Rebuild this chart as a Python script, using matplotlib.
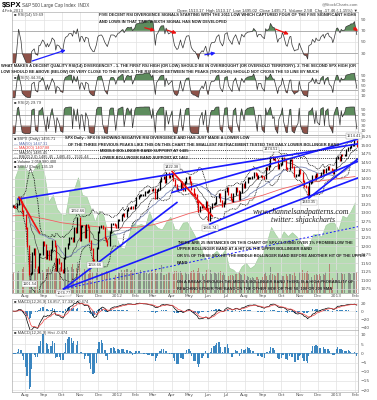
import numpy as np
import pandas as pd
import matplotlib
matplotlib.use("Agg")
import matplotlib.pyplot as plt
import matplotlib.dates as mdates
from matplotlib.ticker import FixedLocator, FuncFormatter

# SPX close, every second trading day (Jul 2011 - Feb 2013)
close = [
    1319, 1317, 1316, 1326, 1343, 1331, 1304, 1292,
    1254, 1200, 1119, 1120, 1179, 1192, 1140, 1123, 1177, 1177, 1212,
    1204, 1165, 1185, 1162, 1189, 1216, 1202, 1129, 1162, 1151, 1131,
    1123, 1165, 1195, 1207, 1224, 1225, 1215, 1254, 1242, 1285,
    1219, 1261, 1261, 1229, 1263, 1257, 1216, 1193, 1161, 1159, 1195,
    1244, 1257, 1261, 1255, 1226, 1216, 1205, 1243, 1265, 1265, 1263,
    1258, 1277, 1278, 1292, 1295, 1289, 1308, 1315, 1314, 1318, 1313,
    1324, 1344, 1348, 1351, 1351, 1351, 1361, 1362, 1363, 1367, 1366,
    1370, 1343, 1366, 1371, 1394, 1404, 1405, 1392, 1417, 1405, 1408,
    1413, 1398, 1382, 1368, 1370, 1391, 1377, 1366, 1391, 1403,
    1405, 1391, 1370, 1354, 1353, 1331, 1304, 1316, 1324, 1318, 1332, 1310,
    1278, 1315, 1325, 1325, 1330, 1345, 1355, 1335, 1319, 1329,
    1365, 1374, 1355, 1341, 1334, 1354, 1373, 1363, 1339, 1360, 1385,
    1376, 1391, 1402, 1403, 1404, 1405, 1418, 1413, 1403, 1410, 1410, 1407,
    1404, 1432, 1429, 1437, 1466, 1459, 1460, 1456, 1433, 1441,
    1445, 1461, 1455, 1433, 1429, 1455, 1457, 1434, 1409, 1411, 1412,
    1427, 1417, 1395, 1380, 1375, 1353, 1387, 1392, 1409, 1399, 1415,
    1409, 1408, 1418, 1427, 1419, 1430, 1436, 1430, 1427, 1418, 1426,
    1462, 1466, 1457, 1472, 1470, 1472, 1486, 1492, 1494, 1500, 1501,
    1513, 1496,
]

# volume, billions of shares
volume = [
    3.6, 3.9, 4.1, 4.0, 4.2, 3.8, 4.6, 5.0,
    5.8, 6.5, 8.0, 7.5, 6.0, 4.5, 5.3, 4.6, 5.0, 4.0, 4.3,
    4.0, 4.6, 4.5, 5.0, 4.5, 5.2, 4.5, 6.7, 5.2, 4.8, 4.9,
    6.5, 5.6, 4.8, 5.0, 4.3, 5.0, 5.5, 4.5, 4.8, 5.8,
    5.6, 4.7, 3.9, 4.6, 3.8, 3.7, 4.7, 4.8, 4.0, 2.0, 4.0,
    4.8, 4.2, 4.0, 3.9, 4.0, 4.2, 3.9, 4.0, 2.5, 2.3, 2.8,
    3.5, 4.0, 3.8, 4.3, 4.0, 4.4, 4.5, 4.5, 4.2, 4.4, 4.0,
    4.5, 4.2, 4.0, 3.7, 4.3, 4.1, 3.9, 3.8, 3.6, 3.8, 4.2,
    4.0, 4.6, 3.7, 3.8, 4.0, 5.3, 3.4, 3.5, 3.6, 3.9, 4.0,
    3.9, 3.6, 4.1, 4.2, 3.9, 4.1, 3.8, 3.5, 3.9, 3.6,
    3.7, 3.9, 4.2, 4.4, 4.0, 4.2, 4.8, 3.9, 3.6, 3.2, 3.6, 4.3,
    4.6, 4.3, 3.7, 3.9, 3.8, 3.6, 3.9, 4.2, 3.5, 4.0,
    3.4, 2.0, 3.3, 3.4, 3.5, 3.2, 3.7, 3.6, 3.9, 3.6, 3.4,
    3.6, 3.4, 3.2, 3.0, 2.8, 3.0, 2.9, 3.1, 3.0, 2.7, 2.5, 3.1,
    3.6, 3.9, 3.3, 3.4, 5.0, 3.6, 3.5, 3.3, 3.8, 3.8,
    3.4, 3.2, 3.2, 3.6, 3.2, 3.7, 3.6, 3.4, 3.9, 3.3, 2.0,
    4.0, 3.8, 4.3, 3.8, 3.9, 4.2, 3.6, 3.0, 1.8, 3.5, 3.7,
    3.4, 3.6, 3.3, 3.6, 3.4, 4.0, 3.5, 5.5, 1.2, 2.8, 2.9,
    4.3, 3.8, 3.5, 3.8, 3.6, 3.7, 4.5, 3.8, 3.8, 3.6, 3.8,
    3.8, 3.9,
]

# $XEU weekly close
xeu = [
    141.5, 143.8, 143.9, 142.8, 142.4, 143.9, 144.9, 142.0, 136.5, 137.9,
    135.0, 133.9, 133.8, 138.8, 138.9, 141.5, 137.9, 137.6, 135.2, 132.4,
    134.6, 133.8, 130.4, 130.6, 129.6,
    127.2, 126.8, 129.3, 132.2, 131.6, 131.9, 131.5, 134.5, 132.0, 131.1,
    130.8, 132.3, 133.4, 130.9, 130.7, 132.2, 132.3, 130.8, 129.2, 127.8,
    125.2, 124.3, 125.6, 126.4, 125.3, 126.6, 122.9, 122.5, 121.6, 123.2,
    123.9, 122.8, 123.4, 125.2, 125.8, 128.2, 131.3, 129.8, 128.6, 130.4,
    129.4, 130.2, 129.4, 128.3, 127.1, 127.5, 129.8, 129.9, 129.3, 131.7,
    132.2, 132.2, 130.7, 133.6, 133.2, 134.6, 136.4,
]

# 200 day moving average, month starts Jul 2011 - Feb 2013
ma200_dates = pd.date_range("2011-07-01", "2013-02-01", freq="MS")
ma200 = [1290, 1292, 1282, 1270, 1263, 1258, 1255, 1256, 1264, 1280,
         1298, 1312, 1325, 1337, 1352, 1370, 1384, 1393, 1400, 1407]

dates = pd.date_range(end="2013-02-04", periods=len(close), freq="2B")
xeu_dates = pd.date_range(end="2013-02-01", periods=len(xeu), freq="W-FRI")
s = pd.Series(close, index=dates, dtype=float)


def rsi(series, n):
    d = series.diff()
    up = d.clip(lower=0).ewm(alpha=1 / n, adjust=False).mean()
    dn = (-d.clip(upper=0)).ewm(alpha=1 / n, adjust=False).mean()
    return 100 - 100 / (1 + up / dn.replace(0, 1e-9))


rsi14 = rsi(s, 7).bfill()
rsi5 = rsi(s, 2.5).bfill()
rsi2 = rsi(s, 1.4).bfill()
ma50 = s.rolling(25, min_periods=1).mean()
mid = s.rolling(10, min_periods=2).mean().bfill()
sd = s.rolling(10, min_periods=2).std().bfill()
bb_up, bb_lo = mid + 2 * sd, mid - 2 * sd
macd = s.ewm(span=6, adjust=False).mean() - s.ewm(span=13, adjust=False).mean()
signal = macd.ewm(span=4.5, adjust=False).mean()
hist = macd - signal

W, H = 377, 400
fig = plt.figure(figsize=(W / 100, H / 100), dpi=100)
L, R = 12, 358
x0, x1 = pd.Timestamp("2011-07-10"), pd.Timestamp("2013-02-06")
SANS = ["Liberation Sans", "DejaVu Sans"]


def panel(top, bottom):
    a = fig.add_axes([L / W, 1 - bottom / H, (R - L) / W, (bottom - top) / H])
    a.set_xlim(x0, x1)
    for sp in a.spines.values():
        sp.set_color("#b0b0b0")
        sp.set_linewidth(0.5)
    a.yaxis.tick_right()
    a.tick_params(length=0, labelsize=3.2, colors="#555555", pad=2)
    a.xaxis.set_major_locator(mdates.MonthLocator())
    a.grid(True, color="#e2e2e2", linewidth=0.5)
    a.set_axisbelow(True)
    a.tick_params(axis="x", labelbottom=False)
    return a


def month_fmt(x, pos):
    d = mdates.num2date(x)
    return str(d.year) if d.month == 1 else d.strftime("%b")


GREEN, BROWN = "#5d8c5d", "#8e5249"


def rsi_panel(a, r, lo, hi, ticks):
    a.set_ylim(lo, hi)
    a.yaxis.set_major_locator(FixedLocator(ticks))
    a.axhline(70, color="#999999", lw=0.5)
    a.axhline(30, color="#999999", lw=0.5)
    a.fill_between(r.index, r, 70, where=r >= 70, interpolate=True, color=GREEN, lw=0)
    a.fill_between(r.index, r, 30, where=r <= 30, interpolate=True, color=BROWN, lw=0)
    a.plot(r.index, r, color="#333333", lw=0.5)


ax1 = panel(12, 63)
rsi_panel(ax1, rsi14, 12, 104, [30, 50, 70, 90])
ax2 = panel(63, 99)
rsi_panel(ax2, rsi5, -5, 140, [10, 30, 50, 70, 90])
ax3 = panel(99, 135)
rsi_panel(ax3, rsi2, -5, 130, [10, 30, 50, 70, 90])
small = dict(fontsize=3.0, va="center", color="#444444", family=SANS)
fig.text(14 / W, 1 - 15 / H, "\u25a0 RSI(14) 59.69", **small)
fig.text(14 / W, 1 - 78 / H, "\u25a0 RSI(5) 44.36", **small)
fig.text(14 / W, 1 - 103 / H, "\u25a0 RSI(2) 29.79", **small)

# divergence arrows on RSI(14)
arrows = [
    ("2011-08-08", 14, "2011-10-12", 37, "#1f1fff"),
    ("2012-05-22", 26, "2012-06-18", 31, "#1f1fff"),
    ("2012-02-12", 77, "2012-03-09", 69, "#ee1111"),
    ("2012-03-20", 73, "2012-04-14", 64, "#ee1111"),
    ("2012-09-17", 75, "2012-10-18", 62, "#ee1111"),
    ("2013-01-26", 78, "2013-02-10", 67, "#ee1111"),
]
for a_s, a_v, b_s, b_v, c in arrows:
    ax1.annotate("", xy=(pd.Timestamp(b_s), b_v), xytext=(pd.Timestamp(a_s), a_v),
                 arrowprops=dict(arrowstyle="-|>", color=c, lw=0.9, mutation_scale=5),
                 annotation_clip=False)

# price panel with XEU area and volume underneath
axp = panel(135, 293)
ax_x = axp.twinx()
ax_v = axp.twinx()
for a in (ax_x, ax_v):
    a.set_yticks([])
    for sp in a.spines.values():
        sp.set_visible(False)
ax_x.set_zorder(1)
ax_v.set_zorder(2)
axp.set_zorder(3)
axp.patch.set_visible(False)
axp.yaxis.tick_right()
ax_x.fill_between(xeu_dates, xeu, 100, color="#b7dcb3", lw=0.4, edgecolor="#9cc999")
ax_x.set_ylim(117.7, 150.2)
ax_x.set_xlim(x0, x1)
prev = s.shift(1).fillna(s.iloc[0])
up = s.values >= prev.values
vcol = np.where(up, "#7a7a7a", "#b5665f")
ax_v.bar(dates, volume, width=1.6, color=vcol, alpha=0.75, lw=0)
ax_v.set_ylim(0, 30)
ax_v.set_xlim(x0, x1)

axp.set_ylim(1062, 1530)
axp.yaxis.set_major_locator(FixedLocator(np.arange(1075, 1526, 25)))
axp.grid(True, axis="y", color="#d4d4d4", lw=0.5)
axp.plot(dates, bb_up, color="black", lw=0.6, ls=(0, (1, 1)))
axp.plot(dates, bb_lo, color="black", lw=0.6, ls=(0, (1, 1)))
axp.plot(dates, mid, color="#333333", lw=0.4)
axp.plot(dates, ma50, color="#7b88b5", lw=0.6)
axp.plot(ma200_dates, ma200, color="#f06060", lw=0.6)
lo_bar = np.minimum(s.values, prev.values)
hi_bar = np.maximum(s.values, prev.values)
ccol = np.where(up, "black", "#dd0000")
axp.vlines(dates, lo_bar - 3, hi_bar + 3, colors=ccol, lw=0.9)

# trend lines (start date, start price, end date, end price)
trend = [
    ("2011-07-20", 1340, "2013-02-10", 1505, "#1a1aff", 1.2, "-"),
    ("2011-10-04", 1074, "2012-04-10", 1330, "#1a1aff", 1.2, "-"),
    ("2011-10-04", 1074, "2013-02-10", 1260, "#1a1aff", 0.7, (0, (2, 2))),
    ("2011-10-04", 1074, "2013-02-06", 1403, "#1a1aff", 1.2, "-"),
    ("2012-06-04", 1266, "2013-02-10", 1455, "#1a1aff", 1.2, "-"),
    ("2012-04-02", 1360, "2013-02-10", 1520, "#1a1aff", 1.2, "-"),
    ("2012-11-16", 1343, "2013-02-10", 1465, "#1a1aff", 1.2, "-"),
    ("2012-04-02", 1422, "2012-06-08", 1290, "#ee1111", 1.2, "-"),
    ("2011-07-22", 1345, "2011-08-25", 1240, "#ee1111", 1.2, "-"),
]
for a_s, a_v, b_s, b_v, c, lw, ls in trend:
    axp.plot([pd.Timestamp(a_s), pd.Timestamp(b_s)], [a_v, b_v], color=c, lw=lw, ls=ls, clip_on=True)

axp.axhline(1485, color="black", lw=0.5, ls=(0, (1.5, 1.5)))
axp.axhline(1462, color="black", lw=0.5, ls=(0, (1.5, 1.5)))

pivots = [
    ("2011-10-04", 1074.77, "1074.77", -1), ("2011-08-08", 1101.54, "1101.54", -1),
    ("2011-10-27", 1292.66, "1292.66", 1), ("2011-11-25", 1158.66, "1158.66", -1),
    ("2012-04-02", 1422.38, "1422.38", 1), ("2012-06-04", 1266.74, "1266.74", -1),
    ("2012-09-14", 1474.51, "1474.51", 1), ("2012-11-16", 1343.35, "1343.35", -1),
    ("2013-01-30", 1514.41, "1514.41", 1),
]
for d, v, t, sgn in pivots:
    axp.text(pd.Timestamp(d), v + sgn * 7, t, fontsize=2.8, ha="center", family=SANS,
             va="bottom" if sgn > 0 else "top", color="#333333",
             bbox=dict(boxstyle="square,pad=0.2", fc="white", ec="#999999", lw=0.3))

axp.tick_params(axis="x", labelbottom=True, labelsize=3.2, pad=1)
axp.xaxis.set_major_formatter(FuncFormatter(month_fmt))

# MACD panels
axm = panel(299, 330)
axm.set_ylim(-47, 30)
axm.yaxis.set_major_locator(FixedLocator([-40, -20, 0, 20]))
axm.bar(dates, hist, width=2.2, color="#3b86c0", lw=0)
axm.plot(dates, macd, color="black", lw=0.5)
axm.plot(dates, signal, color="#ee4444", lw=0.5)
fig.text(14 / W, 1 - 301.5 / H, "\u25a0 MACD(12,26,9) 16.857, 17.330, -0.474", **small)

axh = panel(330, 392)
axh.set_ylim(-21, 12.7)
axh.yaxis.set_major_locator(FixedLocator([-20, -15, -10, -5, 0, 5, 10]))
axh.bar(dates, hist, width=2.2, color="#3b86c0", lw=0)
axh.axhline(0, color="#3b86c0", lw=0.4)
fig.text(14 / W, 1 - 333 / H, "\u25a0 MACD(12,26,9) Hist -0.474", **small)
axh.tick_params(axis="x", labelbottom=True, labelsize=3.2, pad=1)
axh.xaxis.set_major_formatter(FuncFormatter(month_fmt))

# header
fig.text(2 / W, 1 - 5 / H, "$SPX", fontsize=5.5, fontweight="bold", va="center", family=SANS)
fig.text(22 / W, 1 - 5 / H, "S&P 500 Large Cap Index  INDX", fontsize=3.3, va="center",
         color="#444444", family=SANS)
fig.text(2 / W, 1 - 11 / H, "4-Feb-2013", fontsize=3.1, va="center", color="#444444", family=SANS)
fig.text(R / W, 1 - 11 / H,
         "Open 1513.17  High 1513.17  Low 1495.02  Close 1495.71  Volume 2.5B  Chg -17.46 (-1.15%) \u25bc",
         fontsize=3.1, va="center", ha="right", color="#333333", family=SANS)
fig.text(R / W, 1 - 4 / H, "@StockCharts.com", fontsize=3.1, va="center", ha="right",
         color="#666666", family=SANS)

note = dict(fontsize=2.9, fontweight="bold", color="#222222", va="center", family=SANS)
fig.text(99 / W, 1 - 15.5 / H, "FIVE DECENT RSI DIVERGENCE SIGNALS STARTING WITH THE 2011 LOW WHICH CAPTURED FOUR OF THE FIVE SIGNIFICANT HIGHS", **note)
fig.text(99 / W, 1 - 22 / H, "AND LOWS IN THAT TIME. A SIXTH SIGNAL HAS NOW DEVELOPED", **note)
fig.text(1 / W, 1 - 66 / H, "WHAT MAKES A DECENT QUALITY RSI(14) DIVERGENCE? - 1. THE FIRST RSI HIGH (OR LOW) SHOULD BE IN OVERBOUGHT (OR OVERSOLD TERRITORY). 2. THE SECOND SPX HIGH (OR", **note)
fig.text(1 / W, 1 - 72.5 / H, "LOW SHOULD BE ABOVE (BELOW) OR VERY CLOSE TO THE FIRST. 3. THE RSI MOVE BETWEEN THE PEAKS (TROUGHS) SHOULD NOT CROSS THE 50 LINE BY MUCH", **note)
fig.text(65 / W, 1 - 138 / H, "SPX Daily - SPX IS SHOWING NEGATIVE RSI DIVERGENCE AND HAS JUST MADE A LOWER LOW", **note)
fig.text(68 / W, 1 - 144.5 / H, "OF THE THREE PREVIOUS PEAKS LIKE THIS ON THIS CHART THE SMALLEST RETRACEMENT TESTED THE DAILY LOWER BOLLINGER BAND", **note)
fig.text(100 / W, 1 - 151 / H, "MIDDLE BOLLINGER BAND SUPPORT AT 1485", **note)
fig.text(100 / W, 1 - 157.5 / H, "LOWER BOLLINGER BAND SUPPORT AT 1462", **note)
fig.text(177 / W, 1 - 243 / H, "THERE ARE 25 INSTANCES ON THIS CHART OF SPX CLOSING OVER 1% FROM/BELOW THE", **note)
fig.text(177 / W, 1 - 249.5 / H, "UPPER BOLLINGER BAND AT A HIT OF THE UPPER BOLLINGER BAND", **note)
fig.text(177 / W, 1 - 256 / H, "OR 5% OF THESE SPX HIT THE MIDDLE BOLLINGER BAND BEFORE ANOTHER HIT OF THE UPPER", **note)
fig.text(177 / W, 1 - 262.5 / H, "BAND", **note)
fig.text(177 / W, 1 - 282 / H, "ON A BREAK THROUGH THE MIDDLE BOLLINGER BAND THERE IS A HIGH PROBABILITY OF", **note)
fig.text(177 / W, 1 - 288.5 / H, "REACHING EITHER THE BAND ON THE OTHER SIDE OR THE 50, 100 OR 200 SMA", **note)
serif = dict(fontsize=5.6, style="italic", family=["Liberation Serif", "DejaVu Serif"],
             ha="center", va="center", color="#222222")
fig.text(301 / W, 1 - 212 / H, "www.channelsandpatterns.com", **serif)
fig.text(303 / W, 1 - 220.5 / H, "twitter: shjackcharts", **serif)

legend = [
    ("\u25a0 $SPX (Daily) 1495.71", "#333333"),
    ("\u2014 MA(50) 1447.31", "#5566aa"),
    ("\u2014 MA(200) 1407.88", "#ee3333"),
    ("\u2014 MA(20) 1485.45", "#333333"),
    ("--- BB(20,2.0) 1485.45 - 1485.45 - 1531.44", "#333333"),
    ("\u25a0 Volume 2,058,980,400", "#333333"),
    ("\u25a0 $XEU (Daily) 135.19", "#333333"),
]
for i, (t, c) in enumerate(legend):
    fig.text(14 / W, 1 - (139 + i * 4.6) / H, t, fontsize=2.8, color=c, va="center", family=SANS)

fig.savefig("out.png", dpi=100)
